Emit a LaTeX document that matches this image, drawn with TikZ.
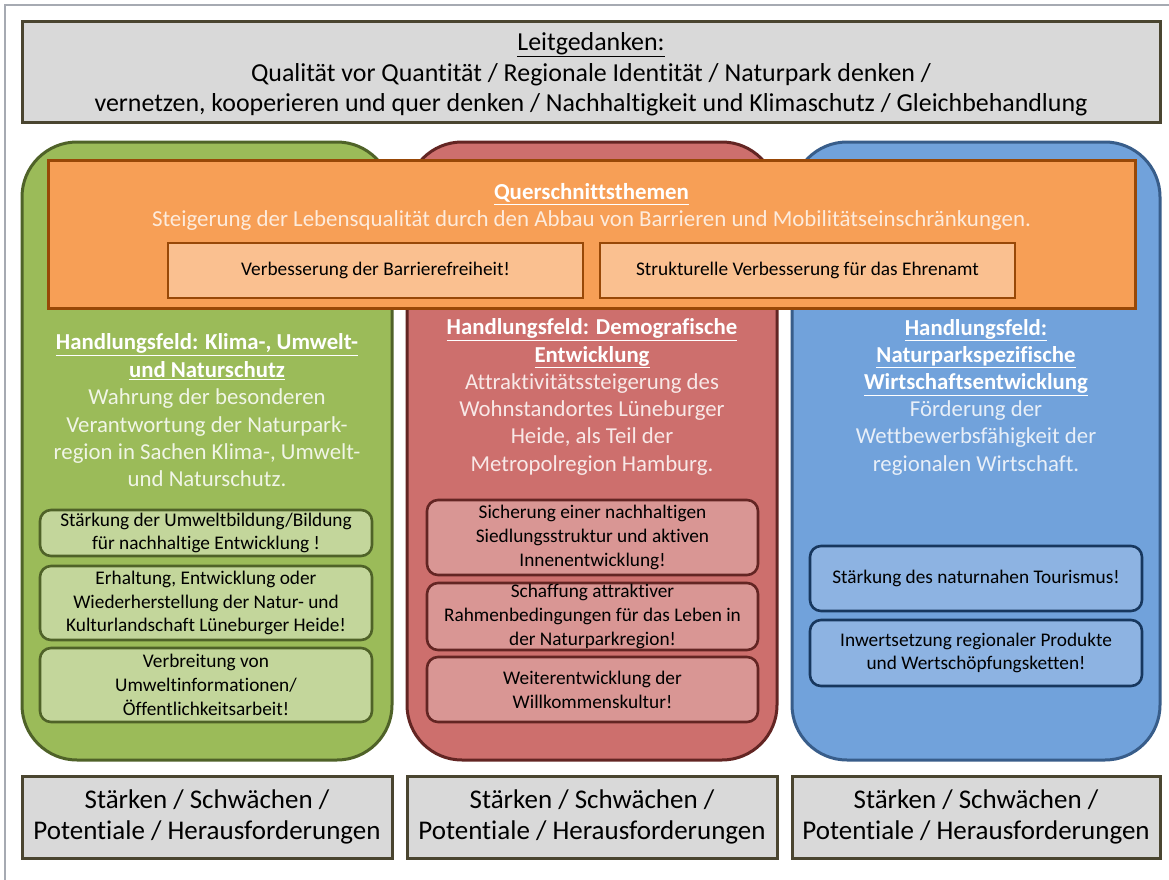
\documentclass[tikz,border=0pt]{standalone}
\usepackage{fontspec}
\setmainfont{Carlito}[Ligatures={NoCommon}, RawFeature={-liga;-clig}]
\definecolor{frameg}{HTML}{A6AAB2}
\definecolor{hdrfill}{HTML}{D9D9D9}
\definecolor{hdrline}{HTML}{4A4530}
\definecolor{gfill}{HTML}{9BBB59}
\definecolor{gline}{HTML}{4F6228}
\definecolor{gsub}{HTML}{C3D69B}
\definecolor{gtxt}{HTML}{F0F5E6}
\definecolor{rfill}{HTML}{CD6F6D}
\definecolor{rline}{HTML}{632523}
\definecolor{rsub}{HTML}{D99694}
\definecolor{rtxt}{HTML}{F8E8E7}
\definecolor{bfill}{HTML}{71A2DB}
\definecolor{bline}{HTML}{385D8A}
\definecolor{bsub}{HTML}{8DB3E2}
\definecolor{bsubline}{HTML}{17375E}
\definecolor{btxt}{HTML}{E8EFF8}
\definecolor{ofill}{HTML}{F79F56}
\definecolor{oline}{HTML}{984807}
\definecolor{osub}{HTML}{FAC090}
\definecolor{otxt}{HTML}{FDEBDC}
\tikzset{
  every node/.style={inner sep=0pt, outer sep=0pt, align=center},
  graybox/.style={draw=hdrline, fill=hdrfill, line width=3pt},
  column/.style={line width=3pt, rounded corners=55pt},
  subbox/.style={line width=2.6pt, rounded corners=11pt, text=black,
    font=\fontsize{19.3}{23.8}\selectfont},
}
\newcommand{\ul}[1]{\underline{#1}}
\begin{document}
\begin{tikzpicture}[x=1pt,y=-1pt]
\useasboundingbox (0,0) rectangle (1169,880);
\fill[white] (0,0) rectangle (1169,880);
% page frame
\draw[frameg, line width=2pt] (1169,5) -- (5,5) -- (5,880);
% header
\node[graybox, minimum width=1138pt, minimum height=101pt] (hdr) at (591,72.5) {};
\node[font=\fontsize{25.9}{30.5}\selectfont] (hdrtxt) at (591,74.5)
  {\ul{Leitgedanken:}\\
   Qualität vor Quantität / Regionale Identität / Naturpark denken /\\
   vernetzen, kooperieren und quer denken / Nachhaltigkeit und Klimaschutz / Gleichbehandlung};
% columns
\draw[column, draw=gline, fill=gfill] (22,142) rectangle (392,760);
\draw[column, draw=rline, fill=rfill] (407,142) rectangle (777,760);
\draw[column, draw=bline, fill=bfill] (792,142) rectangle (1160,760);
% orange cross-cutting box
\node[draw=oline, fill=ofill, line width=3pt, minimum width=1087pt,
  minimum height=148pt] (quer) at (591.5,234) {};
\node[text=otxt, font=\fontsize{22.9}{27}\selectfont] (quertxt) at (591.5,207)
  {\textcolor{white}{\bfseries\ul{Querschnittsthemen}}\\
   Steigerung der Lebensqualität durch den Abbau von Barrieren und Mobilitätseinschränkungen.};
\node[draw=oline, fill=osub, line width=2.6pt, minimum width=415pt,
  minimum height=55pt, font=\fontsize{19.3}{22}\selectfont] (q1) at (375.5,270.5)
  {Verbesserung der Barrierefreiheit!};
\node[draw=oline, fill=osub, line width=2.6pt, minimum width=415pt,
  minimum height=55pt, font=\fontsize{19.3}{22}\selectfont] (q2) at (807.5,270.5)
  {Strukturelle Verbesserung für das Ehrenamt};
% green column text
\node[text=gtxt, font=\fontsize{22.8}{27.4}\selectfont] (gtitle) at (207,410.5)
  {\textcolor{white}{\bfseries\ul{Handlungsfeld: Klima-, Umwelt-}}\\
   \textcolor{white}{\bfseries\ul{und Naturschutz}}\\
   Wahrung der besonderen\\
   Verantwortung der Naturpark-\\
   region in Sachen Klima-, Umwelt-\\
   und Naturschutz.};
\node[subbox, draw=gline, fill=gsub, minimum width=332pt, minimum height=46pt] (g1) at (206,533)
  {Stärkung der Umweltbildung/Bildung\\ für nachhaltige Entwicklung !};
\node[subbox, draw=gline, fill=gsub, minimum width=332pt, minimum height=74pt] (g2) at (206,603)
  {Erhaltung, Entwicklung oder\\ Wiederherstellung der Natur- und\\ Kulturlandschaft Lüneburger Heide!};
\node[subbox, draw=gline, fill=gsub, minimum width=332pt, minimum height=74pt] (g3) at (206,685)
  {Verbreitung von\\ Umweltinformationen/\\ Öffentlichkeitsarbeit!};
% red column text
\node[text=rtxt, font=\fontsize{22.8}{27.3}\selectfont] (rtitle) at (592,397)
  {\textcolor{white}{\bfseries\ul{Handlungsfeld: Demografische}}\\
   \textcolor{white}{\bfseries\ul{Entwicklung}}\\
   Attraktivitätssteigerung des\\
   Wohnstandortes Lüneburger\\
   Heide, als Teil der\\
   Metropolregion Hamburg.};
\node[subbox, draw=rline, fill=rsub, minimum width=331pt, minimum height=75pt] (r1) at (592.5,537.5)
  {Sicherung einer nachhaltigen\\ Siedlungsstruktur und aktiven\\ Innenentwicklung!};
\node[subbox, draw=rline, fill=rsub, minimum width=331pt, minimum height=67pt] (r2) at (592.5,616.5)
  {Schaffung attraktiver\\ Rahmenbedingungen für das Leben in\\ der Naturparkregion!};
\node[subbox, draw=rline, fill=rsub, minimum width=331pt, minimum height=65pt] (r3) at (592.5,689.5)
  {Weiterentwicklung der\\ Willkommenskultur!};
% blue column text
\node[text=btxt, font=\fontsize{22.8}{27.2}\selectfont] (btitle) at (976,397)
  {\textcolor{white}{\bfseries\ul{Handlungsfeld:}}\\
   \textcolor{white}{\bfseries\ul{Naturparkspezifische}}\\
   \textcolor{white}{\bfseries\ul{Wirtschaftsentwicklung}}\\
   Förderung der\\
   Wettbewerbsfähigkeit der\\
   regionalen Wirtschaft.};
\node[subbox, draw=bsubline, fill=bsub, minimum width=332pt, minimum height=65pt] (b1) at (976,578.5)
  {Stärkung des naturnahen Tourismus!};
\node[subbox, draw=bsubline, fill=bsub, minimum width=332pt, minimum height=66pt] (b2) at (976,653)
  {Inwertsetzung regionaler Produkte\\ und Wertschöpfungsketten!};
% bottom boxes
\node[graybox, minimum width=370pt, minimum height=82pt, font=\fontsize{27}{31}\selectfont]
  (s1) at (207,817) {Stärken / Schwächen /\\ Potentiale / Herausforderungen};
\node[graybox, minimum width=370pt, minimum height=82pt, font=\fontsize{27}{31}\selectfont]
  (s2) at (592,817) {Stärken / Schwächen /\\ Potentiale / Herausforderungen};
\node[graybox, minimum width=368pt, minimum height=82pt, font=\fontsize{27}{31}\selectfont]
  (s3) at (976,817) {Stärken / Schwächen /\\ Potentiale / Herausforderungen};
\end{tikzpicture}
\end{document}
